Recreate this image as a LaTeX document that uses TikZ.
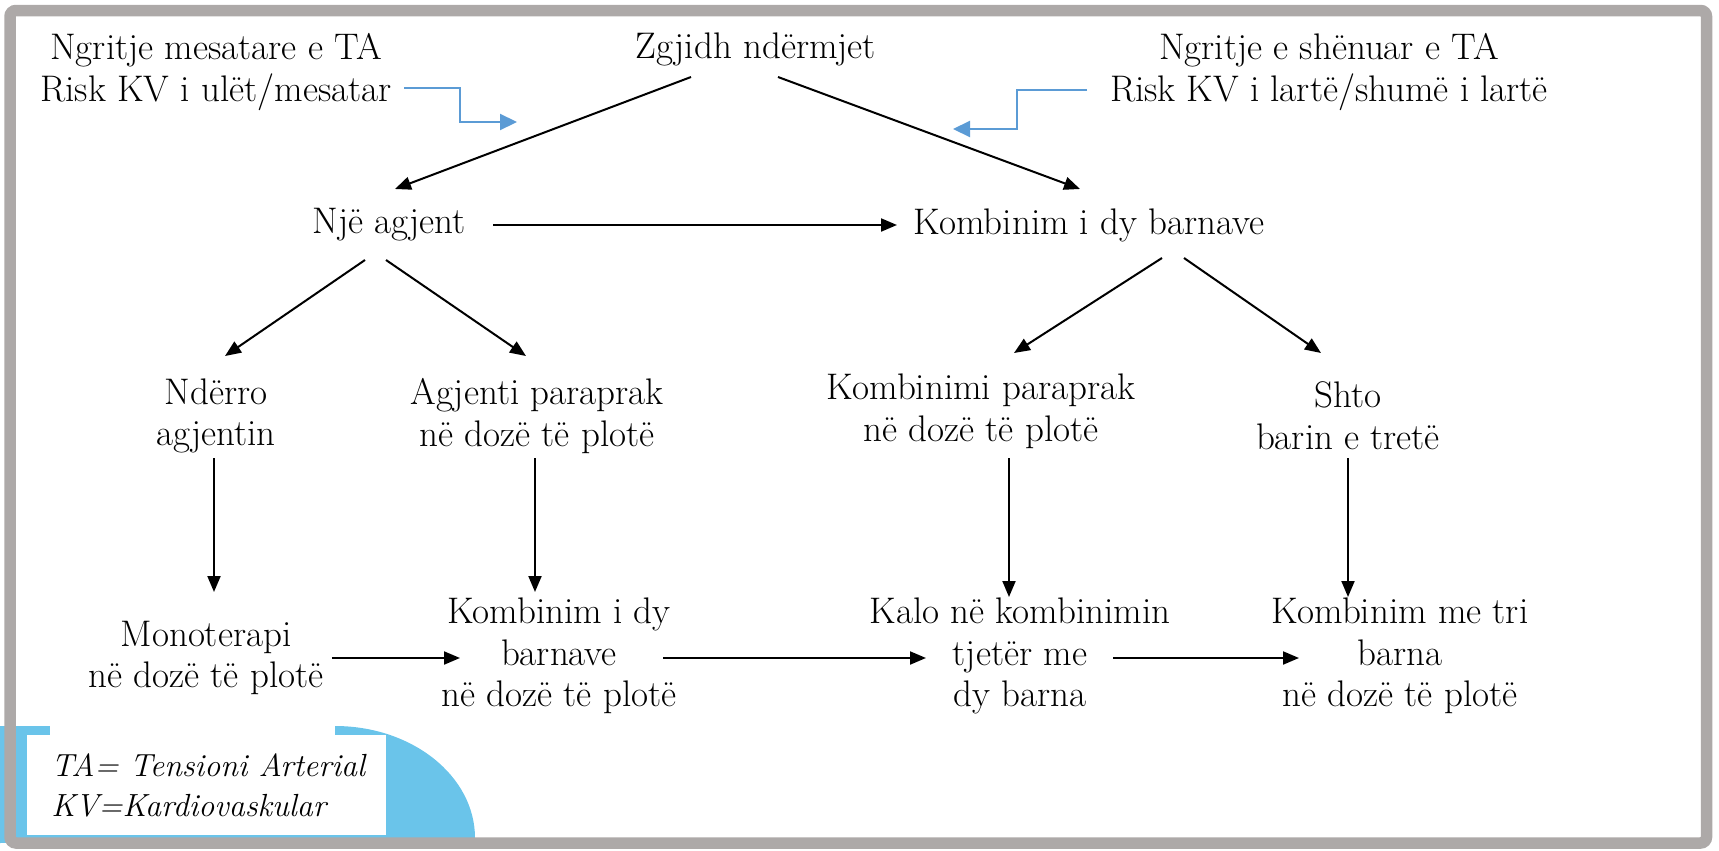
\documentclass[tikz,border=0pt]{standalone}
\usetikzlibrary{
    positioning,
    arrows.meta,
    calc
}
\definecolor{framegray}{HTML}{ADA9A8}
\definecolor{legendblue}{HTML}{6AC4EA}
\definecolor{arrowblue}{HTML}{5B9BD5}

\begin{document}
\begin{tikzpicture}[x=0.5pt, y=-0.5pt,
        font=\fontsize{18.5}{20.8}\selectfont,
        txt/.style={align=center, inner sep=0pt},
        arr/.style={-{Triangle[length=8pt,width=6.5pt]}, line width=1pt},
        blu/.style={-{Triangle[length=8.5pt,width=8pt]}, line width=1.1pt, arrowblue}]
        \useasboundingbox (0,0) rectangle (1719,851);

        % Bakgrunn for forklaring
        \fill[legendblue] (0,726) -- (335,726)
            arc[start angle=-90, end angle=0, x radius=140, y radius=112]
            -- (0,843) -- cycle;
        \fill[white] (50,720) rectangle (335,736);
        \fill[white] (27,735) rectangle (386,835);
        \node[anchor=west, align=left, inner sep=0pt, font=\fontsize{16}{20}\selectfont\itshape] (leg) at (51,785) {TA= Tensioni Arterial\\KV=Kardiovaskular};

        % Ramme
        \draw[framegray, line width=5.75pt, rounded corners=3pt] (10,10.5) rectangle (1706.5,843);

        % Toppnivå
        \node[txt] (zgj) at (756,49) {Zgjidh ndërmjet};
        \node[txt] (low) at (216,72) {Ngritje mesatare e TA\\Risk KV i ulët/mesatar};
        \node[txt] (high) at (1329,72) {Ngritje e shënuar e TA\\Risk KV i lartë/shumë i lartë};
        \coordinate (lowtip) at (517,122);
        \coordinate (hightip) at (953,129);

        % Andre nivå
        \node[txt] (nje) at (389,225) {Një agjent};
        \node[txt] (komb) at (1089,225) {Kombinim i dy barnave};

        % Tredje nivå
        \node[txt] (nde) at (216,416) {Ndërro\\agjentin};
        \node[txt] (agj) at (537,416) {Agjenti paraprak\\në dozë të plotë};
        \node[txt] (kpp) at (981,411) {Kombinimi paraprak\\në dozë të plotë};
        \node[txt] (sht) at (1348,416) {Shto\\barin e tretë};

        % Nederste nivå
        \node[txt] (mono) at (206,658) {Monoterapi\\në dozë të plotë};
        \node[txt] (kdy) at (559,656) {Kombinim i dy\\barnave\\në dozë të plotë};
        \node[txt] (kalo) at (1020,656) {Kalo në kombinimin\\tjetër me\\dy barna};
        \node[txt] (ktri) at (1400,656) {Kombinim me tri\\barna\\në dozë të plotë};

        % Blå piler
        \draw[blu] ($(low)+(188,16)$) -- ++(56,0) |- (lowtip);
        \draw[blu] ($(high)+(-242,18)$) -- ++(-70,0) |- (hightip);

        % Piler
        \draw[arr] ($(zgj)+(-65,28)$) -- ($(nje)+(6,-36)$);
        \draw[arr] ($(zgj)+(22,28)$) -- ($(komb)+(-9,-36)$);
        \draw[arr] ($(nje)+(104,0)$) -- ($(komb)+(-192,0)$);
        \draw[arr] ($(nje)+(-24,35)$) -- ($(nde)+(9,-60)$);
        \draw[arr] ($(nje)+(-3,35)$) -- ($(agj)+(-11,-60)$);
        \draw[arr] ($(komb)+(73,33)$) -- ($(kpp)+(33,-58)$);
        \draw[arr] ($(komb)+(95,33)$) -- ($(sht)+(-27,-63)$);
        \draw[arr] ($(nde)+(-2,42)$) -- ($(mono)+(8,-66)$);
        \draw[arr] ($(agj)+(-2,42)$) -- ($(kdy)+(-24,-64)$);
        \draw[arr] ($(kpp)+(28,47)$) -- ($(kalo)+(-11,-59)$);
        \draw[arr] ($(sht)+(0,42)$) -- ($(ktri)+(-52,-59)$);
        \draw[arr] ($(mono.east)+(8,0)$) -- ($(kdy)+(-99,2)$);
        \draw[arr] ($(kdy)+(104,2)$) -- ($(kalo)+(-94,2)$);
        \draw[arr] ($(kalo)+(93,2)$) -- ($(ktri)+(-101,2)$);
    \end{tikzpicture}
\end{document}
